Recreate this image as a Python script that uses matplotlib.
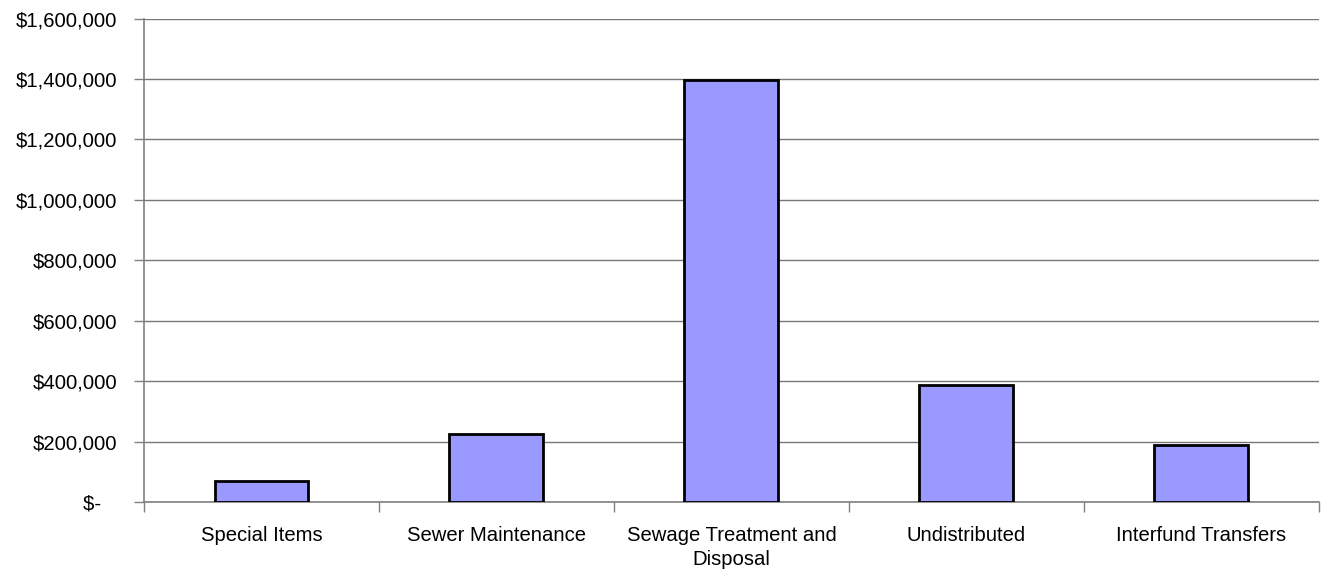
import numpy as np
import matplotlib
matplotlib.use('Agg')
from matplotlib import pyplot as plt
from matplotlib.ticker import FuncFormatter

categories = ['Special Items', 'Sewer Maintenance', 'Sewage Treatment and\nDisposal',
              'Undistributed', 'Interfund Transfers']
amounts = [71000, 225500, 1398000, 387500, 189000]
y_ticks = [0, 200000, 400000, 600000, 800000, 1000000, 1200000, 1400000, 1600000]

plt.rcParams['font.family'] = ['Liberation Sans', 'DejaVu Sans']

fig = plt.figure(figsize=(13.26, 5.81), dpi=100)
ax = fig.add_axes([0.1086, 0.1356, 0.8861, 0.8325])

x = np.arange(len(categories))
ax.bar(x, amounts, width=0.4, color='#9999ff', edgecolor='black', linewidth=2, zorder=3)

ax.set_xlim(-0.5, len(categories) - 0.5)
ax.set_ylim(0, 1600000)

# gridlines
ax.set_yticks(y_ticks)
ax.yaxis.grid(True, color='#777777', linewidth=1, zorder=0)
ax.set_axisbelow(True)

def money(v, pos):
    if v == 0:
        return '$-   '
    return '${:,.0f}'.format(v)

ax.yaxis.set_major_formatter(FuncFormatter(money))
ax.tick_params(axis='y', length=7, width=1, color='#808080', pad=12, labelsize=14.6)

# category labels at centers, tick marks at boundaries
ax.set_xticks(x)
ax.set_xticklabels(categories, linespacing=1.35)
ax.set_xticks(np.arange(len(categories) + 1) - 0.5, minor=True)
ax.tick_params(axis='x', which='major', length=0, pad=17, labelsize=14.6)
ax.tick_params(axis='x', which='minor', length=7, width=1, color='#808080')

for side in ['top', 'right']:
    ax.spines[side].set_visible(False)
for side in ['left', 'bottom']:
    ax.spines[side].set_color('#808080')
    ax.spines[side].set_linewidth(1.2)

plt.savefig('out.png', dpi=100)
